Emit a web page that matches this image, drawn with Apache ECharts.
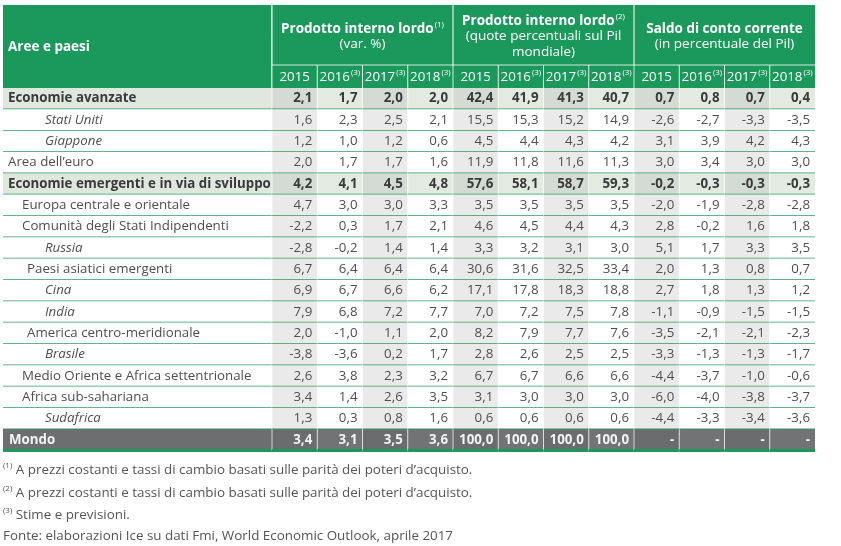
<!DOCTYPE html>
<html lang="it">
<head>
<meta charset="UTF-8">
<title>Aree e paesi</title>
<style>
	html,body{margin:0;padding:0;background:#fff;overflow:hidden;}
	#main{width:841px;height:546px;}
</style>
</head>
<body>
<div id="main"></div>
<script src="https://cdn.jsdelivr.net/npm/echarts@6/dist/echarts.min.js"></script>
<script>
// dati
var areas = [
	'Economie avanzate', 'Stati Uniti', 'Giappone', 'Area dell\u2019euro',
	'Economie emergenti e in via di sviluppo', 'Europa centrale e orientale',
	'Comunit\u00e0 degli Stati Indipendenti', 'Russia', 'Paesi asiatici emergenti',
	'Cina', 'India', 'America centro-meridionale', 'Brasile',
	'Medio Oriente e Africa settentrionale', 'Africa sub-sahariana', 'Sudafrica', 'Mondo'
];
// aggregate = riga in grassetto, area = senza rientro, region/subregion = rientro, country = corsivo
var areaKinds = [
	'aggregate', 'country', 'country', 'area',
	'aggregate', 'region', 'region', 'country', 'subregion',
	'country', 'country', 'subregion', 'country',
	'region', 'region', 'country', 'total'
];
var years = ['2015', '2016', '2017', '2018'];
var yearNotes = ['', '(3)', '(3)', '(3)'];
var groupTitles = ['Prodotto interno lordo', 'Prodotto interno lordo', 'Saldo di conto corrente'];
var groupNotes = ['(1)', '(2)', ''];
var groupSubtitles = [['(var. %)'], ['(quote percentuali sul Pil', 'mondiale)'], ['(in percentuale del Pil)']];

var pilVar = [
	[2.1, 1.7, 2.0, 2.0], [1.6, 2.3, 2.5, 2.1], [1.2, 1.0, 1.2, 0.6], [2.0, 1.7, 1.7, 1.6],
	[4.2, 4.1, 4.5, 4.8], [4.7, 3.0, 3.0, 3.3], [-2.2, 0.3, 1.7, 2.1], [-2.8, -0.2, 1.4, 1.4],
	[6.7, 6.4, 6.4, 6.4], [6.9, 6.7, 6.6, 6.2], [7.9, 6.8, 7.2, 7.7], [2.0, -1.0, 1.1, 2.0],
	[-3.8, -3.6, 0.2, 1.7], [2.6, 3.8, 2.3, 3.2], [3.4, 1.4, 2.6, 3.5], [1.3, 0.3, 0.8, 1.6],
	[3.4, 3.1, 3.5, 3.6]
];
var pilQuota = [
	[42.4, 41.9, 41.3, 40.7], [15.5, 15.3, 15.2, 14.9], [4.5, 4.4, 4.3, 4.2], [11.9, 11.8, 11.6, 11.3],
	[57.6, 58.1, 58.7, 59.3], [3.5, 3.5, 3.5, 3.5], [4.6, 4.5, 4.4, 4.3], [3.3, 3.2, 3.1, 3.0],
	[30.6, 31.6, 32.5, 33.4], [17.1, 17.8, 18.3, 18.8], [7.0, 7.2, 7.5, 7.8], [8.2, 7.9, 7.7, 7.6],
	[2.8, 2.6, 2.5, 2.5], [6.7, 6.7, 6.6, 6.6], [3.1, 3.0, 3.0, 3.0], [0.6, 0.6, 0.6, 0.6],
	[100.0, 100.0, 100.0, 100.0]
];
var saldo = [
	[0.7, 0.8, 0.7, 0.4], [-2.6, -2.7, -3.3, -3.5], [3.1, 3.9, 4.2, 4.3], [3.0, 3.4, 3.0, 3.0],
	[-0.2, -0.3, -0.3, -0.3], [-2.0, -1.9, -2.8, -2.8], [2.8, -0.2, 1.6, 1.8], [5.1, 1.7, 3.3, 3.5],
	[2.0, 1.3, 0.8, 0.7], [2.7, 1.8, 1.3, 1.2], [-1.1, -0.9, -1.5, -1.5], [-3.5, -2.1, -2.1, -2.3],
	[-3.3, -1.3, -1.3, -1.7], [-4.4, -3.7, -1.0, -0.6], [-6.0, -4.0, -3.8, -3.7], [-4.4, -3.3, -3.4, -3.6],
	[null, null, null, null]
];
var noteMarks = ['(1)', '(2)', '(3)'];
var notes = [
	'A prezzi costanti e tassi di cambio basati sulle parit\u00e0 dei poteri d\u2019acquisto.',
	'A prezzi costanti e tassi di cambio basati sulle parit\u00e0 dei poteri d\u2019acquisto.',
	'Stime e previsioni.'
];
var source = 'Fonte: elaborazioni Ice su dati Fmi, World Economic Outlook, aprile 2017';

// stile
var FONT = '"Open Sans", "Noto Sans", sans-serif';
var GREEN = '#1b985b';
var LINE = '#2e9a62';
var TEXT = '#4f4f4f';
var TEXT_BOLD = '#3a3a3a';
var FS = 13.3;
var indent = {aggregate: 5, area: 5, region: 19, subregion: 24, country: 42, total: 6};

var groups = [pilVar, pilQuota, saldo];
var columns = [];
groups.forEach(function (g, gi) {
	years.forEach(function (y, yi) { columns.push({group: gi, year: yi}); });
});

function fmt(v) {
	return v == null ? '-' : v.toFixed(1).replace('.', ',');
}

var bodyCells = [], bodyData = [];
areas.forEach(function (a, r) {
	columns.forEach(function (c, ci) {
		bodyCells.push(fmt(groups[c.group][r][c.year]));
		bodyData.push([ci, r]);
	});
});

function cellBox(api) {
	var c = api.coord([api.value(0), api.value(1)]);
	var s = api.size([1, 1]);
	return {cx: c[0], cy: c[1], x: c[0] - s[0] / 2, y: c[1] - s[1] / 2, w: s[0], h: s[1]};
}

var sup = {fontSize: 8, fontFamily: FONT, fill: '#fff', verticalAlign: 'top', lineHeight: 12, padding: [0, 0, 0, 1]};

function renderLabelHead(params, api) {
	var b = cellBox(api);
	return {type: 'group', children: [
		{type: 'rect', shape: {x: b.x, y: b.y, width: b.w, height: b.h}, style: {fill: GREEN}},
		{type: 'line', shape: {x1: b.x + b.w, y1: b.y, x2: b.x + b.w, y2: b.y + b.h}, style: {stroke: '#fff', lineWidth: 1}},
		{type: 'text', x: b.x + 5, y: b.cy + 1, style: {text: 'Aree e paesi', fill: '#fff', font: 'bold 13.5px ' + FONT, align: 'left', verticalAlign: 'middle'}}
	]};
}

function renderGroupHead(params, api) {
	var b = cellBox(api);
	var gi = api.value(0);
	var lines = groupSubtitles[gi];
	var n = lines.length + 1, step = 15.5;
	var y0 = b.cy + 1.5 - (n - 1) * step / 2;
	var children = [
		{type: 'rect', shape: {x: b.x, y: b.y, width: b.w, height: b.h}, style: {fill: GREEN}},
		{type: 'line', shape: {x1: b.x, y1: b.y, x2: b.x, y2: b.y + b.h}, style: {stroke: '#fff', lineWidth: 1}},
		{type: 'text', x: b.cx, y: y0, style: {
			text: '{t|' + groupTitles[gi] + '}' + (groupNotes[gi] ? '{s|' + groupNotes[gi] + '}' : ''),
			align: 'center', verticalAlign: 'middle',
			rich: {t: {fontSize: 13.5, fontWeight: 'bold', fontFamily: FONT, fill: '#fff', lineHeight: 16}, s: sup}
		}}
	];
	lines.forEach(function (l, i) {
		children.push({type: 'text', x: b.cx, y: y0 + (i + 1) * step, style: {
			text: l, fill: '#fff', font: '13.5px ' + FONT, align: 'center', verticalAlign: 'middle'
		}});
	});
	return {type: 'group', children: children};
}

function renderYearHead(params, api) {
	var b = cellBox(api);
	var c = columns[api.value(0)];
	return {type: 'group', children: [
		{type: 'rect', shape: {x: b.x, y: b.y, width: b.w, height: b.h}, style: {fill: GREEN}},
		{type: 'line', shape: {x1: b.x, y1: b.y, x2: b.x + b.w, y2: b.y}, style: {stroke: 'rgba(255,255,255,0.8)', lineWidth: 1}},
		{type: 'line', shape: {x1: b.x, y1: b.y, x2: b.x, y2: b.y + b.h}, style: {stroke: 'rgba(255,255,255,0.8)', lineWidth: 1}},
		{type: 'text', x: b.cx, y: b.cy + 0.5, style: {
			text: '{y|' + years[c.year] + '}' + (yearNotes[c.year] ? '{s|' + yearNotes[c.year] + '}' : ''),
			align: 'center', verticalAlign: 'middle',
			rich: {y: {fontSize: FS, fontFamily: FONT, fill: '#fff', lineHeight: 16}, s: sup}
		}}
	]};
}

function renderLabel(params, api) {
	var b = cellBox(api);
	var r = api.value(1);
	var kind = areaKinds[r];
	var fill = kind === 'aggregate' ? '#dfe7df' : kind === 'total' ? '#6d6e70' : '#fff';
	var font = (kind === 'aggregate' || kind === 'total' ? 'bold ' : kind === 'country' ? 'italic ' : '') + FS + 'px ' + FONT;
	var color = kind === 'total' ? '#f4f4f4' : kind === 'aggregate' ? TEXT_BOLD : TEXT;
	return {type: 'group', children: [
		{type: 'rect', shape: {x: b.x, y: b.y, width: b.w, height: b.h}, style: {fill: fill}},
		{type: 'line', shape: {x1: b.x, y1: b.y + b.h, x2: b.x + b.w, y2: b.y + b.h},
			style: {stroke: kind === 'total' ? GREEN : LINE, lineWidth: kind === 'total' ? 3 : 1.5}},
		{type: 'text', x: b.x + indent[kind], y: b.cy, style: {text: areas[r], font: font, fill: color, align: 'left', verticalAlign: 'middle'}}
	]};
}

function renderCell(params, api) {
	var b = cellBox(api);
	var ci = api.value(0), r = api.value(1);
	var kind = areaKinds[r];
	var shaded = columns[ci].year % 2 === 0;
	var fill;
	if (kind === 'aggregate') fill = shaded ? '#d4dbd4' : '#e2eae2';
	else if (kind === 'total') fill = shaded ? '#6b6c6e' : '#727375';
	else fill = shaded ? '#eaeaea' : '#ffffff';
	var bold = kind === 'aggregate' || kind === 'total';
	var color = kind === 'total' ? '#f4f4f4' : bold ? TEXT_BOLD : TEXT;
	return {type: 'group', children: [
		{type: 'rect', shape: {x: b.x, y: b.y, width: b.w, height: b.h}, style: {fill: fill}},
		{type: 'line', shape: {x1: b.x, y1: b.y, x2: b.x, y2: b.y + b.h}, style: {stroke: 'rgba(255,255,255,0.7)', lineWidth: 1}},
		{type: 'line', shape: {x1: b.x, y1: b.y + b.h, x2: b.x + b.w, y2: b.y + b.h},
			style: {stroke: kind === 'total' ? GREEN : LINE, lineWidth: kind === 'total' ? 3 : 1.5}},
		{type: 'text', x: b.x + b.w - 5, y: b.cy, style: {
			text: bodyCells[params.dataIndex], font: (bold ? 'bold ' : '') + FS + 'px ' + FONT,
			fill: color, align: 'right', verticalAlign: 'middle'
		}}
	]};
}

function idx(n) {
	var a = [];
	for (var i = 0; i < n; i++) a.push(String(i));
	return a;
}

var gridBase = {outerBoundsMode: 'none', containLabel: false};
var option = {
	animation: false,
	grid: [
		echarts.util.extend({left: 3, top: 5, width: 269, height: 83}, gridBase),
		echarts.util.extend({left: 272, top: 5, width: 543, height: 60}, gridBase),
		echarts.util.extend({left: 272, top: 65, width: 543, height: 23}, gridBase),
		echarts.util.extend({left: 3, top: 88, width: 269, height: 362.5}, gridBase),
		echarts.util.extend({left: 272, top: 88, width: 543, height: 362.5}, gridBase)
	],
	xAxis: [
		{gridIndex: 0, type: 'category', data: ['0'], show: false},
		{gridIndex: 1, type: 'category', data: idx(groupTitles.length), show: false},
		{gridIndex: 2, type: 'category', data: idx(columns.length), show: false},
		{gridIndex: 3, type: 'category', data: ['0'], show: false},
		{gridIndex: 4, type: 'category', data: idx(columns.length), show: false}
	],
	yAxis: [
		{gridIndex: 0, type: 'category', data: ['0'], show: false},
		{gridIndex: 1, type: 'category', data: ['0'], show: false},
		{gridIndex: 2, type: 'category', data: ['0'], show: false},
		{gridIndex: 3, type: 'category', data: areas, inverse: true, show: false},
		{gridIndex: 4, type: 'category', data: areas, inverse: true, show: false}
	],
	series: [
		{type: 'custom', xAxisIndex: 0, yAxisIndex: 0, silent: true, clip: false, renderItem: renderLabelHead, data: [[0, 0]]},
		{type: 'custom', xAxisIndex: 1, yAxisIndex: 1, silent: true, clip: false, renderItem: renderGroupHead,
			data: groupTitles.map(function (t, i) { return [i, 0]; })},
		{type: 'custom', xAxisIndex: 2, yAxisIndex: 2, silent: true, clip: false, renderItem: renderYearHead,
			data: columns.map(function (c, i) { return [i, 0]; })},
		{type: 'custom', xAxisIndex: 3, yAxisIndex: 3, silent: true, clip: false, renderItem: renderLabel,
			data: areas.map(function (a, i) { return [0, i]; })},
		{type: 'custom', xAxisIndex: 4, yAxisIndex: 4, silent: true, clip: false, renderItem: renderCell, data: bodyData}
	],
	graphic: notes.map(function (t, i) {
		return {type: 'text', left: 3, top: 462 + i * 22.5, silent: true, style: {
			text: '{s|' + noteMarks[i] + '}{t| ' + t + '}',
			rich: {
				s: {fontSize: 8, fontFamily: FONT, fill: '#555', verticalAlign: 'top', lineHeight: 12},
				t: {fontSize: 13.4, fontFamily: FONT, fill: '#555', lineHeight: 17}
			}
		}};
	}).concat([{type: 'text', left: 3, top: 530, silent: true, style: {
		text: source, fill: '#555', font: '13.4px ' + FONT
	}}])
};

var myChart = echarts.init(document.getElementById('main'));
myChart.setOption(option);
</script>
</body>
</html>
